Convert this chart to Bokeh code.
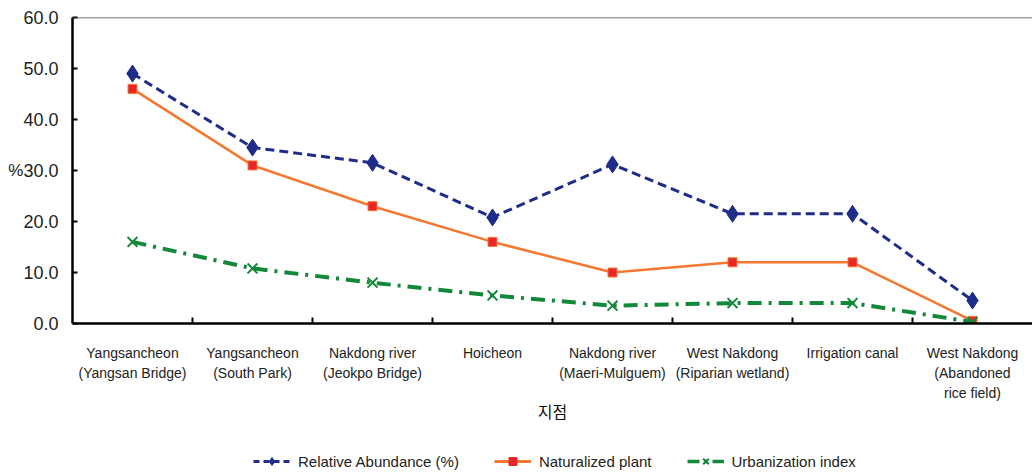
from bokeh.plotting import figure
from bokeh.layouts import column
from bokeh.models import (Range1d, LinearAxis, FixedTicker, Legend, LegendItem,
                          Span, CustomJSTickFormatter)
from bokeh.embed import file_html
from bokeh.resources import INLINE

categories = [
    "Yangsancheon\n(Yangsan Bridge)",
    "Yangsancheon\n(South Park)",
    "Nakdong river\n(Jeokpo Bridge)",
    "Hoicheon",
    "Nakdong river\n(Maeri-Mulguem)",
    "West Nakdong\n(Riparian wetland)",
    "Irrigation canal",
    "West Nakdong\n(Abandoned\nrice field)",
]
relative_abundance = [49.0, 34.5, 31.5, 20.8, 31.2, 21.5, 21.5, 4.5]
naturalized_plant = [46.0, 31.0, 23.0, 16.0, 10.0, 12.0, 12.0, 0.5]
urbanization_index = [16.0, 10.8, 8.0, 5.5, 3.5, 4.0, 4.0, 0.3]
y_ticks = [0, 10, 20, 30, 40, 50, 60]
series_names = ["Relative Abundance (%)", "Naturalized plant", "Urbanization index"]

xs = [i + 0.5 for i in range(len(categories))]
boundaries = [i for i in range(1, len(categories))]

p = figure(width=1032, height=445, output_backend="svg", toolbar_location=None,
           x_range=Range1d(0, len(categories)), y_range=Range1d(0, 60),
           x_axis_type=None, y_axis_type=None,
           min_border_left=72, min_border_right=0, min_border_top=17, min_border_bottom=122,
           background_fill_color="white", border_fill_color="white")
p.outline_line_color = None
p.xgrid.visible = False
p.ygrid.visible = False

# x axis
xaxis = LinearAxis(ticker=FixedTicker(ticks=xs, minor_ticks=boundaries))
xaxis.major_label_overrides = {x: c for x, c in zip(xs, categories)}
xaxis.major_tick_in = 0
xaxis.major_tick_out = 0
xaxis.minor_tick_in = 6
xaxis.minor_tick_out = 0
xaxis.minor_tick_line_color = "black"
xaxis.minor_tick_line_width = 2
xaxis.axis_line_color = "black"
xaxis.axis_line_width = 2.5
xaxis.major_label_standoff = 21
xaxis.major_label_text_font = "Liberation Sans"
xaxis.major_label_text_font_size = "14px"
xaxis.major_label_text_color = "#222222"
xaxis.major_label_text_line_height = 1.27
xaxis.axis_label = "지점"
xaxis.axis_label_text_font = "Noto Sans CJK KR"
xaxis.axis_label_text_font_size = "16px"
xaxis.axis_label_text_font_style = "normal"
xaxis.axis_label_text_color = "#111111"
xaxis.axis_label_standoff = -5
p.add_layout(xaxis, "below")

# y axis
yaxis = LinearAxis(ticker=FixedTicker(ticks=y_ticks))
yaxis.formatter = CustomJSTickFormatter(code="return tick.toFixed(1);")
yaxis.major_tick_in = 5
yaxis.major_tick_out = 0
yaxis.major_tick_line_width = 2
yaxis.minor_tick_line_color = None
yaxis.axis_line_color = "black"
yaxis.axis_line_width = 2.5
yaxis.major_label_standoff = 14
yaxis.major_label_text_font = "Liberation Sans"
yaxis.major_label_text_font_size = "18px"
yaxis.major_label_text_color = "#222222"
if "axis_label_orientation" in yaxis.properties():
    yaxis.axis_label = "%"
    yaxis.axis_label_orientation = "horizontal"
    yaxis.axis_label_standoff = -3
    yaxis.axis_label_text_font = "Liberation Sans"
    yaxis.axis_label_text_font_size = "17px"
    yaxis.axis_label_text_font_style = "normal"
    yaxis.axis_label_text_color = "#222222"
p.add_layout(yaxis, "left")

p.add_layout(Span(location=60, dimension="width", line_color="#444444", line_width=1.5))

blue = "#1f2d8a"
orange = "#f4782f"
red = "#e8262a"
green = "#12893a"

p.line(xs, relative_abundance, line_color=blue, line_width=3, line_dash="9 5")
p.scatter(xs, relative_abundance, marker="diamond", size=17, fill_color=blue, line_color=blue)
p.line(xs, naturalized_plant, line_color=orange, line_width=2.5)
p.scatter(xs, naturalized_plant, marker="square", size=9, fill_color=red, line_color=orange)
p.line(xs, urbanization_index, line_color=green, line_width=4, line_dash="14 7 3 7")
p.scatter(xs, urbanization_index, marker="x", size=14, line_color=green, line_width=2)

# legend strip (separate figure so it is not clipped); its data lies outside its ranges
q = figure(width=1032, height=29, output_backend="svg", toolbar_location=None,
           x_range=Range1d(0, 1), y_range=Range1d(1000, 1001),
           x_axis_type=None, y_axis_type=None,
           min_border=0, min_border_left=0, min_border_right=0, min_border_top=0, min_border_bottom=0,
           background_fill_color="white", border_fill_color="white")
q.outline_line_color = None
q.grid.visible = False
a1 = q.line(xs, relative_abundance, line_color=blue, line_width=3, line_dash="6 4")
b1 = q.scatter(xs, relative_abundance, marker="diamond", size=14, fill_color=blue, line_color=blue)
a2 = q.line(xs, naturalized_plant, line_color=orange, line_width=3)
b2 = q.scatter(xs, naturalized_plant, marker="square", size=9, fill_color=red, line_color=red)
a3 = q.line(xs, urbanization_index, line_color=green, line_width=3.5, line_dash="12 5 3 5")
b3 = q.scatter(xs, urbanization_index, marker="x", size=11, line_color=green, line_width=2)

legend = Legend(items=[
    LegendItem(label=series_names[0], renderers=[a1, b1]),
    LegendItem(label=series_names[1], renderers=[a2, b2]),
    LegendItem(label=series_names[2], renderers=[a3, b3]),
], orientation="horizontal", location=(181, 3))
legend.label_text_font = "Liberation Sans"
legend.label_text_font_size = "15px"
legend.label_text_color = "#222222"
legend.glyph_width = 37
legend.label_standoff = 8
legend.spacing = 35
legend.border_line_color = None
legend.background_fill_alpha = 0
legend.padding = 2
legend.margin = 0
q.add_layout(legend, "center")

open("out.html", "w").write(file_html(column(p, q, spacing=0), INLINE))
